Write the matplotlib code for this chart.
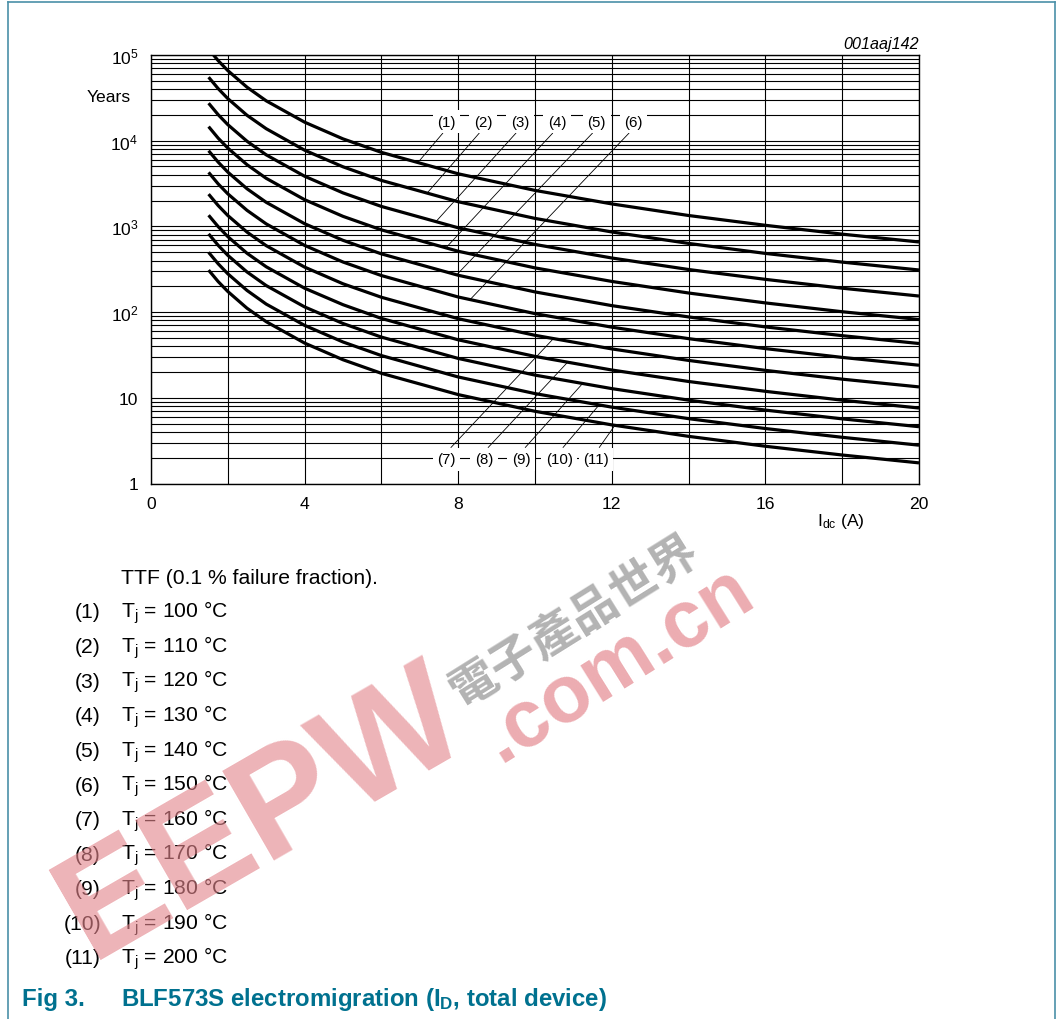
import numpy as np
import matplotlib.pyplot as plt
from matplotlib.lines import Line2D
from matplotlib.ticker import LogLocator, NullFormatter

plt.rcParams['font.family'] = ['Liberation Sans', 'DejaVu Sans']
plt.rcParams['mathtext.fontset'] = 'custom'
plt.rcParams['mathtext.rm'] = 'Liberation Sans'
plt.rcParams['mathtext.it'] = 'Liberation Sans:italic'
plt.rcParams['mathtext.bf'] = 'Liberation Sans:bold'

# drain current (A)
i_dc = [1.5, 1.75, 2, 2.5, 3, 4, 5, 6, 8, 10, 12, 14, 16, 18, 20]

# time to failure (years), one list per junction temperature
ttf_100 = [117000, 85900, 65800, 42100, 29200, 16450, 10500, 7310, 4110, 2630, 1830, 1340, 1030, 812, 658]
ttf_110 = [55100, 40500, 31000, 19800, 13800, 7750, 4960, 3440, 1940, 1240, 861, 633, 484, 383, 310]
ttf_120 = [27400, 20100, 15400, 9860, 6840, 3850, 2460, 1710, 963, 616, 428, 314, 241, 190, 154]
ttf_130 = [14600, 10700, 8200, 5250, 3640, 2050, 1310, 911, 513, 328, 228, 167, 128, 101, 82]
ttf_140 = [7640, 5620, 4300, 2750, 1910, 1075, 688, 478, 269, 172, 119, 87.8, 67.2, 53.1, 43]
ttf_150 = [4270, 3130, 2400, 1540, 1070, 600, 384, 267, 150, 96, 66.7, 49, 37.5, 29.6, 24]
ttf_160 = [2380, 1750, 1340, 858, 596, 335, 214, 149, 83.8, 53.6, 37.2, 27.3, 20.9, 16.5, 13.4]
ttf_170 = [1350, 993, 760, 486, 338, 190, 122, 84.4, 47.5, 30.4, 21.1, 15.5, 11.9, 9.38, 7.6]
ttf_180 = [818, 601, 460, 294, 204, 115, 73.6, 51.1, 28.8, 18.4, 12.8, 9.39, 7.19, 5.68, 4.6]
ttf_190 = [498, 366, 280, 179, 124, 70, 44.8, 31.1, 17.5, 11.2, 7.78, 5.71, 4.38, 3.46, 2.8]
ttf_200 = [309, 227, 174, 111, 77.3, 43.5, 27.8, 19.3, 10.9, 6.96, 4.83, 3.55, 2.72, 2.15, 1.74]

curves = [ttf_100, ttf_110, ttf_120, ttf_130, ttf_140, ttf_150,
          ttf_160, ttf_170, ttf_180, ttf_190, ttf_200]
temps = [100, 110, 120, 130, 140, 150, 160, 170, 180, 190, 200]

# callout labels: label x, label y, x where the leader meets the curve
lab_x = [7.70, 8.65, 9.61, 10.57, 11.61, 12.56, 7.70, 8.67, 9.64, 10.63, 11.59]
lab_y = [1.67e4] * 6 + [1.93] * 5
hit_x = [6.95, 7.19, 7.42, 7.68, 7.96, 8.31, 10.48, 10.85, 11.24, 11.67, 12.08]

W, H = 1063, 1020
fig = plt.figure(figsize=(W / 100, H / 100), dpi=100)


def fx(px):
    return px / W


def fy(py):
    return 1 - py / H


ax = fig.add_axes([fx(151), fy(484.5), 768 / W, 428.5 / H])
ax.set_yscale('log')
ax.set_xlim(0, 20)
ax.set_ylim(1, 1e5)

ax.set_xticks([0, 4, 8, 12, 16, 20])
ax.set_xticks([2, 6, 10, 14, 18], minor=True)
ax.set_yticks([1, 10, 1e2, 1e3, 1e4, 1e5])
ax.set_yticklabels(['1', '10', r'$\mathregular{10^2}$', r'$\mathregular{10^3}$',
                    r'$\mathregular{10^4}$', r'$\mathregular{10^5}$'])
ax.yaxis.set_minor_locator(LogLocator(base=10, subs=np.arange(2, 10)))
ax.yaxis.set_minor_formatter(NullFormatter())
ax.tick_params(which='both', length=0, labelsize=12.6)
ax.tick_params(axis='x', pad=9)
ax.tick_params(axis='y', pad=9)
ax.grid(True, which='both', color='black', lw=0.8)
ax.set_axisbelow(True)
for s in ax.spines.values():
    s.set_linewidth(1.0)

for vals in curves:
    ax.plot(i_dc, vals, color='black', lw=2.3, solid_capstyle='butt', zorder=3)

for k in range(11):
    y_on = 10 ** np.interp(hit_x[k], i_dc, np.log10(curves[k]))
    rel = (0.5, 0) if k < 6 else (0.5, 1)
    ax.annotate('(%d)' % (k + 1), xy=(hit_x[k], y_on), xytext=(lab_x[k], lab_y[k]),
                ha='center', va='center', fontsize=10.8, zorder=5,
                bbox=dict(boxstyle='square,pad=0.3', fc='white', ec='none'),
                arrowprops=dict(arrowstyle='-', lw=0.6, color='black', relpos=rel,
                                shrinkA=0, shrinkB=0))

fig.text(fx(919), fy(45), '001aaj142', ha='right', va='center', style='italic', fontsize=11.6)
fig.text(fx(131), fy(97), 'Years', ha='right', va='center', fontsize=12.6)
fig.text(fx(817), fy(522), r'$\mathregular{I_{dc}}$ (A)', ha='left', va='center', fontsize=12.6)

# caption and legend
fig.text(fx(121), fy(579), 'TTF (0.1 % failure fraction).', ha='left', va='center', fontsize=15.2)
for k, t in enumerate(temps):
    yy = 613 + k * 34.6
    fig.text(fx(101), fy(yy), '(%d)' % (k + 1), ha='right', va='center', fontsize=15.2)
    fig.text(fx(121), fy(yy), r'$\mathregular{T_j}$ = %d °C' % t, ha='left', va='center',
             fontsize=15.2)

teal = '#00718F'
fig.text(fx(22), fy(1000), 'Fig 3.', ha='left', va='center', fontsize=17.3, fontweight='bold',
         color=teal)
fig.text(fx(121), fy(1000), r'BLF573S electromigration (I$\mathbf{_D}$, total device)',
         ha='left', va='center', fontsize=17.3, fontweight='bold', color=teal)

# page frame
border = '#4A90A8'
fig.add_artist(Line2D([fx(8), fx(8)], [0, fy(3)], color=border, lw=1.2))
fig.add_artist(Line2D([fx(8), fx(1055)], [fy(3), fy(3)], color=border, lw=1.2))
fig.add_artist(Line2D([fx(1055), fx(1055)], [0, fy(3)], color=border, lw=1.2))

# watermark
fig.text(fx(262), fy(815), 'EEPW', ha='center', va='center', rotation=30, fontsize=108,
         fontweight='bold', color='#E3858C', alpha=0.62, zorder=10)
fig.text(fx(618), fy(665), '.com.cn', ha='center', va='center', rotation=32, fontsize=58,
         fontweight='bold', color='#E3858C', alpha=0.68, zorder=10)
fig.text(fx(575), fy(622), '電子產品世界', ha='center', va='center', rotation=32, fontsize=34,
         family=['Noto Sans CJK TC', 'DejaVu Sans'], fontweight='bold', color='#A0A0A0',
         alpha=0.8, zorder=10)

fig.savefig('out.png', dpi=100)
